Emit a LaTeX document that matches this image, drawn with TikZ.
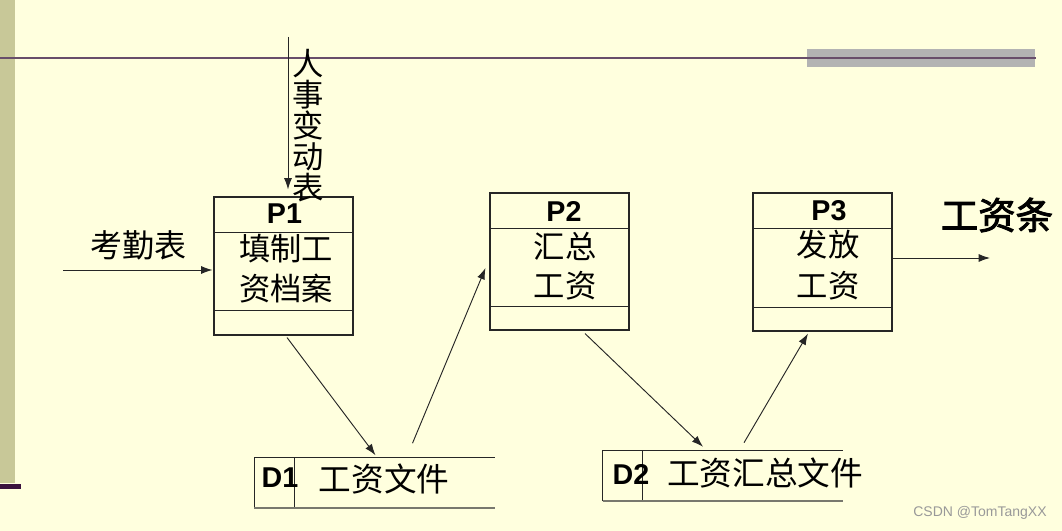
\documentclass[tikz,border=0pt]{standalone}
\usepackage{fontspec}
\setmainfont{Liberation Sans}
\newfontfamily\cjk{Noto Sans CJK SC}
\newfontfamily\cjkb[FakeBold=2.5]{Noto Sans CJK SC}
\usetikzlibrary{arrows.meta}
\usetikzlibrary{calc}
\definecolor{bgyel}{RGB}{255,255,222}
\definecolor{barkhaki}{RGB}{200,200,152}
\definecolor{linepurple}{RGB}{104,78,106}
\definecolor{darkpurple}{RGB}{58,18,62}
\definecolor{stripgray}{RGB}{179,179,179}
\definecolor{storegray}{RGB}{120,120,110}

\begin{document}
\begin{tikzpicture}[x=0.75pt, y=-0.75pt,
  proc/.style={draw=black!85, line width=0.8pt, minimum width=104.25pt, inner sep=0pt},
  store/.style={minimum width=180pt, minimum height=37.5pt, inner sep=0pt},
  zh/.style={font=\cjk\fontsize{23.5}{26}\selectfont, inner sep=0pt},
  pid/.style={font=\bfseries\fontsize{21.5}{24}\selectfont, inner sep=0pt},
  arr/.style={-{Latex[length=8.5pt, width=6pt]}, draw=black!85, line width=0.7pt}]
\useasboundingbox (0,0) rectangle (1062,531);
\fill[bgyel] (0,0) rectangle (1062,531);
% slide decoration
\fill[barkhaki] (0,0) rectangle (15,483);
\fill[darkpurple] (0,484) rectangle (21,489);
\fill[stripgray] (807,49) rectangle (1035,67);
\draw[linepurple, line width=1.5pt] (0,58) -- (1036,58);
% processes
\node[proc, minimum height=103.5pt] (p1) at (283.5,266) {};
\node[proc, minimum height=102.75pt] (p2) at (559.5,261.5) {};
\node[proc, minimum height=103.5pt] (p3) at (822.5,262) {};
\foreach \p/\a/\b in {p1/36/114, p2/36/114, p3/36/115}
  \draw[black!85, line width=0.8pt] ($(\p.north west)+(0,\a)$) -- ($(\p.north east)+(0,\a)$)
    ($(\p.north west)+(0,\b)$) -- ($(\p.north east)+(0,\b)$);
\node[pid] (p1id) at (284.5,214) {P1};
\node[zh] (p1l1) at (286,249) {填制工};
\node[zh] (p1l2) at (286,289) {资档案};
\node[pid] (p2id) at (564,211) {P2};
\node[zh] (p2l1) at (565,246) {汇总};
\node[zh] (p2l2) at (565,286) {工资};
\node[pid] (p3id) at (829,211) {P3};
\node[zh] (p3l1) at (828,245) {发放};
\node[zh] (p3l2) at (828,286) {工资};
% data stores
\node[store] (d1) at (374.5,482.5) {};
\node[store] (d2) at (723,476) {};
\draw[black!85, line width=0.8pt] (d1.south west) -- (d1.north west) -- (d1.north east)
  ($(d1.north west)+(40,0)$) -- ($(d1.south west)+(40,0)$);
\draw[storegray, line width=1.5pt] (d1.south west) -- (d1.south east);
\draw[black!85, line width=0.8pt] (d2.south west) -- (d2.north west) -- (d2.north east)
  ($(d2.north west)+(40,0)$) -- ($(d2.south west)+(40,0)$);
\draw[storegray, line width=1.5pt] (d2.south west) -- (d2.south east);
\node[pid] (d1id) at (280,478) {D1};
\node[zh, font=\cjk\fontsize{24.5}{26}\selectfont] (d1l) at (384,479) {工资文件};
\node[pid] (d2id) at (631,474) {D2};
\node[zh, font=\cjk\fontsize{24.5}{26}\selectfont] (d2l) at (765,473) {工资汇总文件};
% external flows
\coordinate (kq) at (63,270);
\coordinate (rs) at (288,37);
\coordinate (gz) at (990,258);
\node[zh, font=\cjk\fontsize{24}{26}\selectfont] (kqlab) at (138,245) {考勤表};
\node[zh, align=center, font=\cjk\fontsize{23.5}{23.25}\selectfont] (rslab) at (308,126)
  {人\\事\\变\\动\\表};
\node[inner sep=0pt, font=\cjkb\fontsize{28}{30}\selectfont] (gzlab) at (997,215) {工资条};
\draw[arr] (kq) -- ($(p1.west)+(-1,4)$);
\draw[arr] (rs) -- ($(p1.north)+(4.5,-7)$);
\draw[arr] ($(p3.east)+(0,-4)$) -- (gz);
% flows between processes and stores
\draw[arr] ($(p1.south)+(3.5,2)$) -- ($(d1.north)+(1,-2)$);
\draw[arr] ($(d1.north)+(38,-14)$) -- ($(p2.west)+(-4,6.5)$);
\draw[arr] ($(p2.south)+(25.5,3)$) -- ($(d2.north)+(-20,-4)$);
\draw[arr] ($(d2.north)+(21,-8)$) -- ($(p3.south)+(-14.5,2)$);
\node[inner sep=0pt, text=black!40, font=\fontsize{10.5}{12}\selectfont] (wm) at (980,513) {CSDN @TomTangXX};
\end{tikzpicture}
\end{document}
